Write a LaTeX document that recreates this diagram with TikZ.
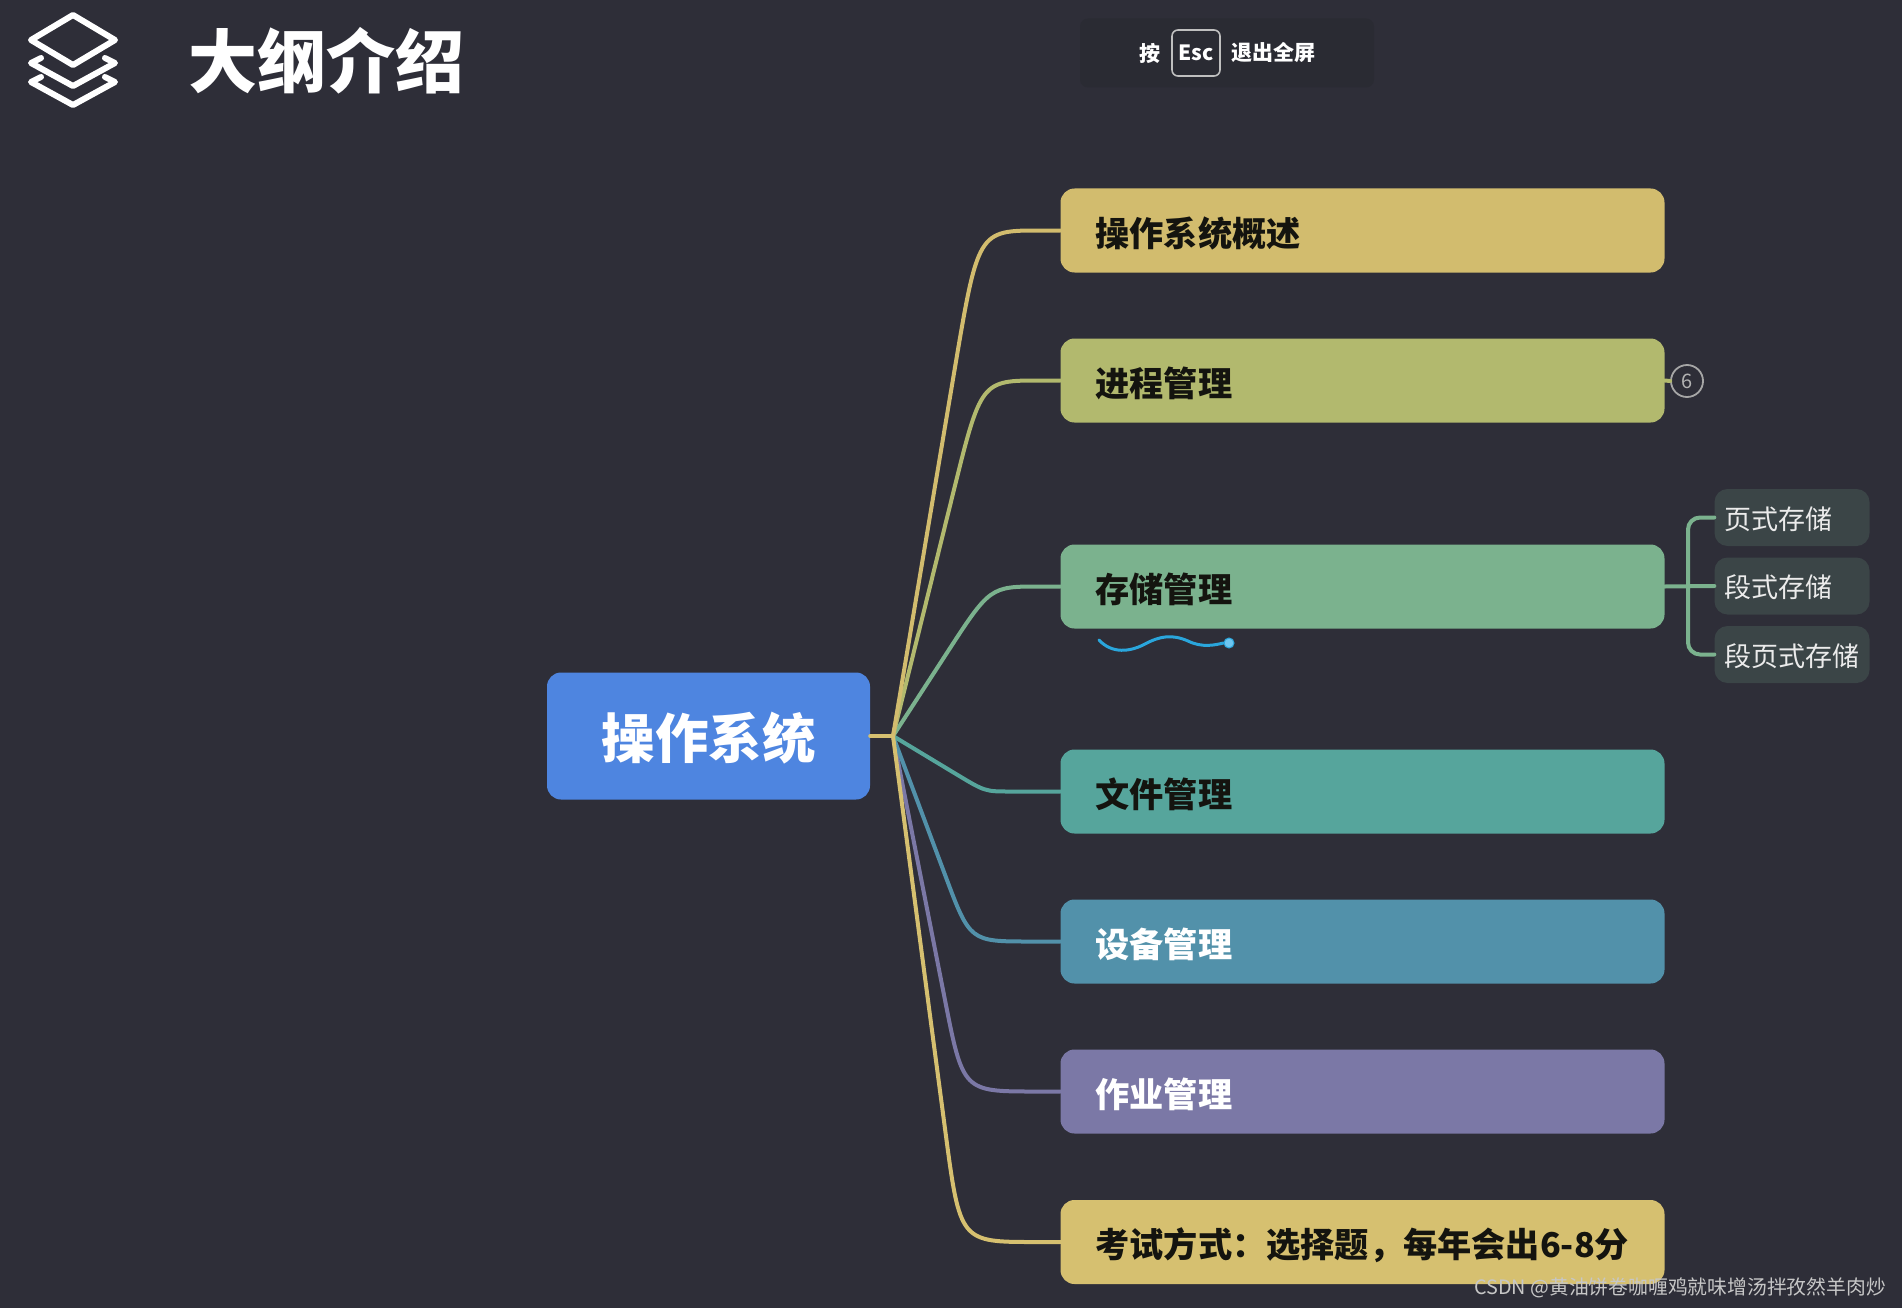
\documentclass[tikz,border=0pt]{standalone}
\usepackage{fontspec}
\usetikzlibrary{calc}
\setmainfont{Noto Sans CJK SC}
\newcommand{\fsz}[1]{\fontsize{#1}{#1}\selectfont}
\definecolor{bgc}{HTML}{2E2E38}
\definecolor{panelc}{HTML}{2A2B33}
\definecolor{rootc}{HTML}{4E85E0}
\definecolor{ca}{HTML}{D2BC6E}
\definecolor{cb}{HTML}{B2B96E}
\definecolor{cc}{HTML}{7BB28E}
\definecolor{cd}{HTML}{56A59C}
\definecolor{ce}{HTML}{5291AA}
\definecolor{cf}{HTML}{7B78A6}
\definecolor{cg}{HTML}{D6C070}
\definecolor{subc}{HTML}{3B4547}
\definecolor{inkc}{HTML}{14140F}
\definecolor{wavec}{HTML}{2AA6DC}
\definecolor{dotc}{HTML}{6EC6F0}
\newcommand{\lowertext}[2]{\raisebox{-#1pt}[\height][\depth]{#2}}
\newcommand{\branchto}[5]{%
  \draw[branch,#1] (j) -- ($(j)!#4!(#3,0 |- #2.west)$) .. controls (#3,0 |- #2.west) .. (#5,0 |- #2.west) -- (#2.west);}
\tikzset{
  x=1pt,y=-1pt,
  mainbox/.style={rounded corners=14pt,minimum height=84pt,text width=534pt,inner xsep=35pt,inner ysep=0pt,align=left,text=inkc,font=\fsz{34.2}\bfseries},
  subbox/.style={rounded corners=13pt,fill=subc,minimum width=155pt,minimum height=57pt,inner sep=0pt,text=white!92!black,font=\fsz{27}},
  branch/.style={line width=4pt,line cap=round,line join=round},
  icon/.style={draw=white,line width=6pt,line join=round,line cap=round},
}
\begin{document}
\begin{tikzpicture}
\useasboundingbox (0,0) rectangle (1902,1308);
\fill[bgc] (0,0) rectangle (1902,1308);
% header icon
\draw[icon] (73,15) -- (115,40) -- (73,65) -- (31,40) -- cycle;
\draw[icon] (41,58) -- (31,63) -- (73,86) -- (115,63) -- (105,58);
\draw[icon] (41,77) -- (31,82) -- (73,105) -- (115,82) -- (105,77);
\node[text=white,font=\fsz{69}\bfseries,anchor=center] (title) at (326,61) {大纲介绍};
% fullscreen hint
\node[fill=panelc,rounded corners=8pt,minimum width=294pt,minimum height=69pt,inner sep=0pt] (panel) at (1227,53) {};
\node[draw=white!75!black,line width=1.6pt,rounded corners=6pt,minimum width=48pt,minimum height=46pt,inner sep=0pt,text=white,font=\fsz{21}\bfseries] (esc) at (1196,53) {Esc};
\node[text=white,font=\fsz{21}\bfseries] (an) at (1150,53) {按};
\node[text=white,font=\fsz{21}\bfseries] (quit) at (1273,53) {退出全屏};
% nodes
\node[fill=rootc,rounded corners=14pt,minimum width=323pt,minimum height=127pt,inner sep=0pt,text=white,font=\fsz{53.5}\bfseries] (root) at (708.5,736) {\lowertext{2}{操作系统}};
\coordinate (j) at (893,736);
\node[mainbox,fill=ca] (n1) at (1362.5,230.5) {\lowertext{3}{操作系统概述}};
\node[mainbox,fill=cb] (n2) at (1362.5,380.5) {\lowertext{3}{进程管理}};
\node[mainbox,fill=cc] (n3) at (1362.5,586.5) {\lowertext{3}{存储管理}};
\node[mainbox,fill=cd] (n4) at (1362.5,791.5) {\lowertext{3}{文件管理}};
\node[mainbox,fill=ce,text=white] (n5) at (1362.5,941.5) {\lowertext{3}{设备管理}};
\node[mainbox,fill=cf,text=white] (n6) at (1362.5,1091.5) {\lowertext{3}{作业管理}};
\node[mainbox,fill=cg] (n7) at (1362.5,1242) {\lowertext{3}{考试方式：选择题，每年会出6-8分}};
\node[subbox] (s1) at (1792,517.5) {\hbox to 135pt{\lowertext{1.5}{页式存储}\hfil}};
\node[subbox] (s2) at (1792,586) {\hbox to 135pt{\lowertext{1.5}{段式存储}\hfil}};
\node[subbox] (s3) at (1792,654.5) {\hbox to 135pt{\lowertext{1.5}{段页式存储}\hfil}};
\node[circle,draw=white!65!black,line width=1.8pt,minimum size=32pt,inner sep=0pt,text=white!70!black,font=\fsz{20}] (six) at (1687,381) {6};
% branches
\branchto{cf}{n6}{963}{.74}{1035}
\branchto{ce}{n5}{970}{.68}{1030}
\branchto{cd}{n4}{985}{.68}{1010}
\branchto{cc}{n3}{990}{.55}{1040}
\branchto{cb}{n2}{981}{.68}{1040}
\branchto{ca}{n1}{978}{.72}{1040}
\branchto{cg}{n7}{960}{.78}{1035}
\draw[branch,cg] (root.east) -- (j);
% sub branches
\coordinate (t) at (1688,586);
\draw[branch,cc] (n3.east) -- (s2.west);
\draw[branch,cc,rounded corners=12pt] (s1.west) -- (t |- s1.west) -- (t |- s3.west) -- (s3.west);
\draw[branch,cb] (n2.east) -- (six.west);
% pen stroke
\coordinate (wa) at (1099,640);
\node[circle,fill=dotc,draw=wavec,line width=1pt,minimum size=10pt,inner sep=0pt] (dot) at (1229,643) {};
\draw[wavec,line width=3pt,line cap=round] (wa) .. controls (1112,654) and (1130,652) .. (1145,644) .. controls (1160,636) and (1172,634) .. (1188,641) .. controls (1202,648) and (1215,645) .. (dot.west);
% watermark
\node[text=white!78!black,font=\fsz{19.8},anchor=east,inner sep=0pt] (wm) at (1886,1288) {CSDN @黄油饼卷咖喱鸡就味增汤拌孜然羊肉炒};
\end{tikzpicture}
\end{document}
